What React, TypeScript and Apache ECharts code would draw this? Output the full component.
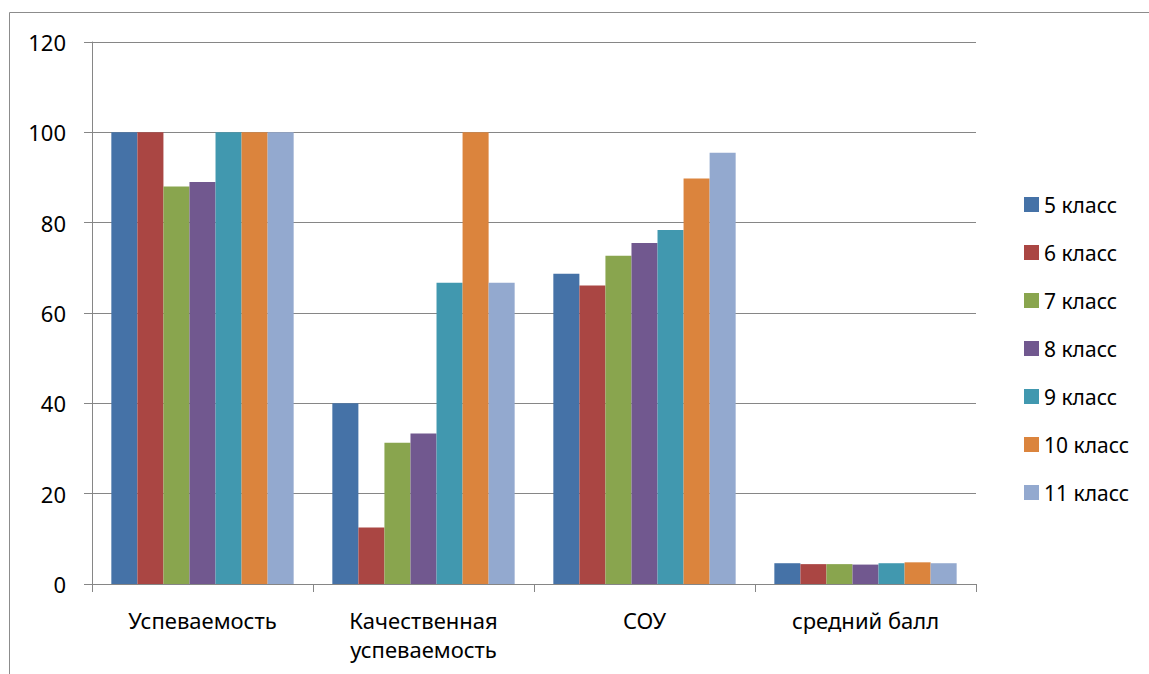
import React, { useEffect, useRef } from "react";
import * as echarts from "echarts";

const categories = ["Успеваемость", "Качественная\nуспеваемость", "СОУ", "средний балл"];
const seriesNames = ["5 класс", "6 класс", "7 класс", "8 класс", "9 класс", "10 класс", "11 класс"];
const grade5 = [100, 40, 68.7, 4.6];
const grade6 = [100, 12.5, 66.1, 4.4];
const grade7 = [88, 31.3, 72.7, 4.4];
const grade8 = [89, 33.3, 75.5, 4.3];
const grade9 = [100, 66.7, 78.4, 4.6];
const grade10 = [100, 100, 89.8, 4.8];
const grade11 = [100, 66.7, 95.5, 4.6];
const seriesValues = [grade5, grade6, grade7, grade8, grade9, grade10, grade11];
const colors = ["#4572A7", "#AA4643", "#89A54E", "#71588F", "#4198AF", "#DB843D", "#93A9CF"];

const FONT = "Noto Sans";

export default function App() {
  const ref = useRef<HTMLDivElement>(null);
  useEffect(() => {
    if (!ref.current) return;
    const chart = echarts.init(ref.current, null, { renderer: "svg" });
    chart.setOption({
      animation: false,
      backgroundColor: "#ffffff",
      textStyle: { fontFamily: FONT },
      graphic: [
        {
          type: "rect",
          shape: { x: 9.5, y: 12.5, width: 1300, height: 800 },
          style: { fill: "none", stroke: "#8c8c8c", lineWidth: 1 },
          silent: true,
        },
      ],
      legend: {
        orient: "vertical",
        left: 1019,
        top: 189,
        itemWidth: 15,
        itemHeight: 15,
        itemGap: 27,
        icon: "rect",
        data: seriesNames,
        textStyle: { fontFamily: FONT, fontSize: 21, color: "#000", lineHeight: 21 },
      },
      grid: { left: 92, top: 42, right: 173, bottom: 90, containLabel: false },
      xAxis: {
        type: "category",
        data: categories,
        axisLine: { lineStyle: { color: "#868686", width: 1 } },
        axisTick: { show: true, length: 8, lineStyle: { color: "#868686" } },
        axisLabel: {
          fontFamily: FONT,
          fontSize: 22,
          color: "#000",
          margin: 21,
          lineHeight: 29,
          interval: 0,
        },
        splitLine: { show: false },
      },
      yAxis: {
        type: "value",
        min: 0,
        max: 120,
        interval: 20,
        axisLine: { show: true, lineStyle: { color: "#868686", width: 1 } },
        axisTick: { show: true, length: 8, lineStyle: { color: "#868686" } },
        axisLabel: { fontFamily: FONT, fontSize: 22, color: "#000", margin: 26 },
        splitLine: { show: true, lineStyle: { color: "#868686", width: 1 } },
      },
      series: seriesNames.map((name, i) => ({
        name,
        type: "bar",
        data: seriesValues[i],
        barGap: "0%",
        barCategoryGap: "17.5%",
        itemStyle: { color: colors[i] },
      })),
    });
    return () => chart.dispose();
  }, []);
  return (
    <div
      ref={ref}
      style={{ position: "absolute", left: 0, top: 0, width: 1149, height: 674 }}
    />
  );
}
